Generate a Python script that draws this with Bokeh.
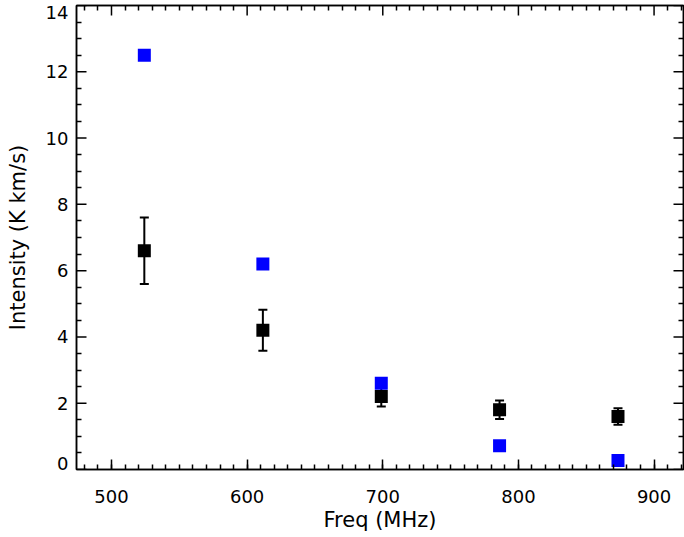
from bokeh.plotting import figure
from bokeh.models import (ColumnDataSource, Whisker, TeeHead, LinearAxis,
                          FixedTicker, SingleIntervalTicker, Range1d)
from bokeh.embed import file_html
from bokeh.resources import INLINE

# Line frequencies and integrated intensities
freq = [524.2, 611.6, 698.9, 786.1, 873.4]
obs_intensity = [6.6, 4.2, 2.2, 1.8, 1.6]
obs_error = [1.0, 0.62, 0.3, 0.28, 0.25]
model_intensity = [12.5, 6.2, 2.6, 0.72, 0.27]

x_ticks = [500, 600, 700, 800, 900]
y_ticks = [0, 2, 4, 6, 8, 10, 12, 14]

FONT = "DejaVu Sans"
X0, X1 = 474.2, 921.7
Y0, Y1 = 0, 14
FRAME_H = 464.0
FRAME_W = 607.0
PX_Y = (Y1 - Y0) / FRAME_H   # data units per pixel
PX_X = (X1 - X0) / FRAME_W

obs = ColumnDataSource(dict(
    x=freq, y=obs_intensity,
    lower=[v - e for v, e in zip(obs_intensity, obs_error)],
    upper=[v + e for v, e in zip(obs_intensity, obs_error)],
))
model = ColumnDataSource(dict(x=freq, y=model_intensity))

p = figure(width=684, height=537, output_backend="svg", toolbar_location=None,
           x_range=Range1d(X0, X1), y_range=Range1d(Y0, Y1),
           min_border_left=76, min_border_right=1, min_border_top=5,
           min_border_bottom=68, x_axis_label="Freq (MHz)",
           y_axis_label="Intensity (K km/s)")

p.grid.visible = False
p.outline_line_color = "black"
p.outline_line_width = 1.5
p.background_fill_color = "white"
p.border_fill_color = "white"

# minor tick positions (majors excluded)
x_minor = [v for v in range(480, 921, 10) if v % 100 != 0]
y_minor = [i * 0.5 for i in range(0, 29) if i % 4 != 0]


def style_axis(ax, ticker):
    ax.ticker = ticker
    ax.axis_line_color = "black"
    ax.axis_line_width = 1.5
    ax.major_tick_line_color = "black"
    ax.minor_tick_line_color = "black"
    ax.major_tick_line_width = 1.5
    ax.minor_tick_line_width = 1.5
    ax.major_tick_in = 10
    ax.major_tick_out = 0
    ax.minor_tick_in = 5
    ax.minor_tick_out = 0
    ax.major_label_text_font = FONT
    ax.major_label_text_font_size = "18px"
    ax.major_label_text_color = "black"
    ax.axis_label_text_font = FONT
    ax.axis_label_text_font_size = "21px"
    ax.axis_label_text_font_style = "normal"
    ax.axis_label_text_color = "black"


xa = p.xaxis[0]
style_axis(xa, SingleIntervalTicker(interval=100, num_minor_ticks=10))
xa.major_label_standoff = 20
xa.axis_label_standoff = 2

# y labels: the end labels (0 and 14) sit slightly inside the frame, so the
# label positions are nudged and the major tick marks are drawn separately
label_pos = ([Y0 + 6 * PX_Y] + [float(t) for t in y_ticks[1:-1]]
             + [Y1 - 7 * PX_Y])
ya = p.yaxis[0]
style_axis(ya, FixedTicker(ticks=label_pos, minor_ticks=y_minor))
ya.major_tick_line_color = None
ya.major_label_overrides = {pos: str(t) for pos, t in zip(label_pos, y_ticks)}
ya.major_label_standoff = 8
ya.axis_label_standoff = 13

# mirrored axes on top and right: minor ticks from the axis, majors as segments
top = LinearAxis(ticker=FixedTicker(ticks=[], minor_ticks=x_minor))
style_axis(top, top.ticker)
top.major_label_standoff = 0
p.add_layout(top, "above")
right = LinearAxis(ticker=FixedTicker(ticks=[], minor_ticks=y_minor))
style_axis(right, right.ticker)
right.major_label_standoff = 0
p.add_layout(right, "right")

n_x, n_y = len(x_ticks), len(y_ticks)
p.segment(x0=x_ticks, x1=x_ticks, y0=[Y1] * n_x, y1=[Y1 - 10 * PX_Y] * n_x,
          line_color="black", line_width=1.5)
p.segment(x0=[X1] * n_y, x1=[X1 - 10 * PX_X] * n_y, y0=y_ticks, y1=y_ticks,
          line_color="black", line_width=1.5)
p.segment(x0=[X0] * n_y, x1=[X0 + 10 * PX_X] * n_y, y0=y_ticks, y1=y_ticks,
          line_color="black", line_width=1.5)

# Observed values with error bars
p.add_layout(Whisker(source=obs, base="x", lower="lower", upper="upper",
                     line_color="black", line_width=2,
                     upper_head=TeeHead(size=9, line_color="black", line_width=2),
                     lower_head=TeeHead(size=9, line_color="black", line_width=2)))
p.scatter("x", "y", source=obs, marker="square", size=13,
          fill_color="black", line_color="black", line_width=0)

# Model values
p.scatter("x", "y", source=model, marker="square", size=13,
          fill_color="#0000ff", line_color="#0000ff", line_width=0)

open("out.html", "w").write(file_html(p, INLINE))
